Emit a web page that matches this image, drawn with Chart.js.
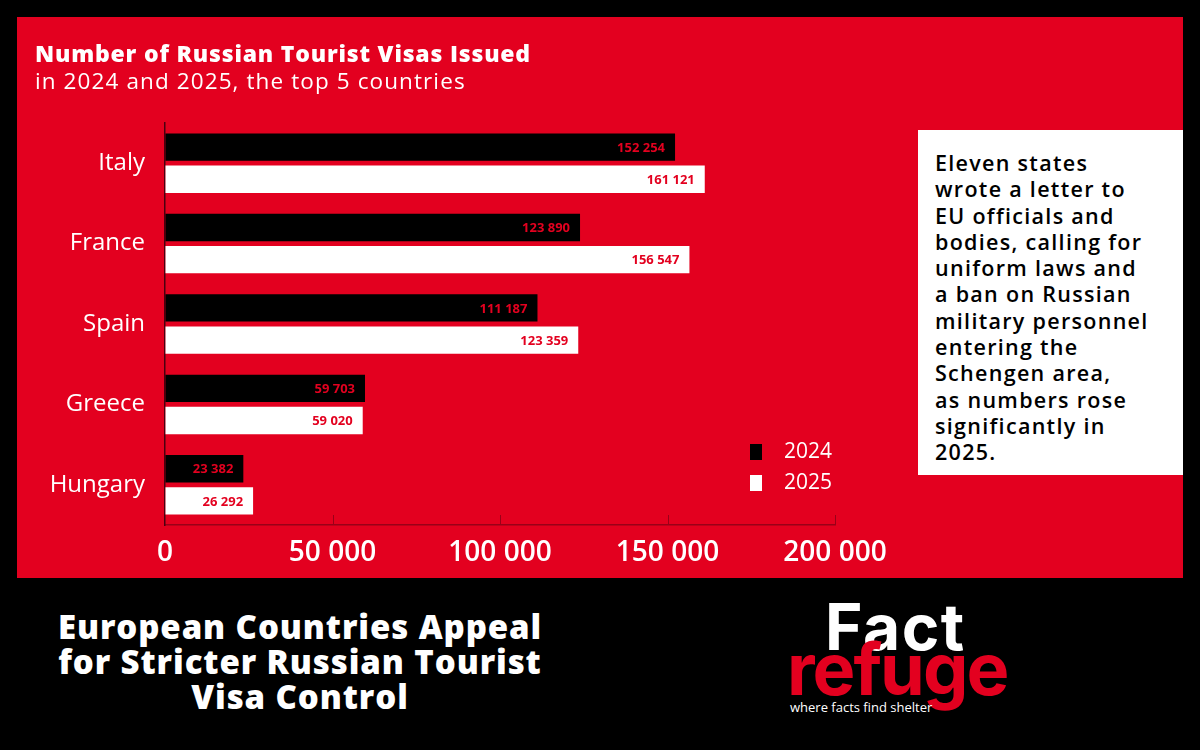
<!DOCTYPE html>
<html>
<head>
<meta charset="utf-8">
<script src="https://cdn.jsdelivr.net/npm/chart.js@4"></script>
<style>
  html, body { margin: 0; padding: 0; }
  body { width: 1200px; height: 750px; background: #000; position: relative; overflow: hidden;
         font-family: "Open Sans", "DejaVu Sans", sans-serif; }
  #panel { position: absolute; left: 17px; top: 17px; width: 1166px; height: 561px; background: #e3001f; }
  #chartBox { position: absolute; left: 0; top: 0; width: 1166px; height: 561px; }
  #title { position: absolute; left: 18px; top: 22px; color: #fff; line-height: 28px; }
  #title .main { font-size: 23px; font-weight: 800; letter-spacing: 0.8px; }
  #title .sub { font-size: 22.5px; font-weight: 400; letter-spacing: 1.1px; }
  #note { position: absolute; left: 901px; top: 113px; width: 265px; height: 345px; background: #fff;
          box-sizing: border-box; padding: 20px 0 0 17px; color: #000; font-size: 21.5px; font-weight: 600;
          line-height: 26.3px; letter-spacing: 1.3px; white-space: nowrap; }
  #headline { position: absolute; left: 0; top: 609px; width: 600px; text-align: center; color: #fff;
              font-size: 33px; font-weight: 800; line-height: 35px; letter-spacing: 0.9px; }
  #logo { position: absolute; left: 785px; top: 596px; width: 240px; height: 130px; }
  #logo .fact { position: absolute; left: 40px; top: -8px; color: #fff; font-size: 64px; font-weight: 700;
                letter-spacing: 1.5px; font-family: "Inter", "Open Sans", sans-serif; }
  #logo .refuge { position: absolute; left: 2px; top: 29px; color: #e3001f; font-size: 72px; font-weight: 700;
                  letter-spacing: -2px; font-family: "Inter", "Open Sans", sans-serif; }
  #logo .tag { position: absolute; left: 5px; top: 102px; color: #fff; font-size: 13px; font-weight: 400; }
</style>
</head>
<body>
<div id="panel">
  <div id="chartBox"><canvas id="visaChart"></canvas></div>
  <div id="title">
    <div class="main">Number of Russian Tourist Visas Issued</div>
    <div class="sub">in 2024 and 2025, the top 5 countries</div>
  </div>
  <div id="note">Eleven states<br>wrote a letter to<br>EU officials and<br>bodies, calling for<br>uniform laws and<br>a ban on Russian<br>military personnel<br>entering the<br>Schengen area,<br>as numbers rose<br>significantly in<br>2025.</div>
</div>
<div id="headline">European Countries Appeal<br>for Stricter Russian Tourist<br>Visa Control</div>
<div id="logo">
  <div class="fact">Fact</div>
  <div class="refuge">refuge</div>
  <div class="tag">where facts find shelter</div>
</div>

<script>
// Chart data
const countries = ['Italy', 'France', 'Spain', 'Greece', 'Hungary'];
const years = ['2024', '2025'];
const visas2024 = [152254, 123890, 111187, 59703, 23382];
const visas2025 = [161121, 156547, 123359, 59020, 26292];
const xTicks = [0, 50000, 100000, 150000, 200000];

const RED = '#e3001f';
const FONT = '"Open Sans", "DejaVu Sans", sans-serif';

// thousands with a space: 152 254
function fmt(v) {
    return String(v).replace(/\B(?=(\d{3})+(?!\d))/g, ' ');
}

// value labels inside the bar ends
const valueLabels = {
    id: 'valueLabels',
    afterDatasetsDraw(chart) {
        const ctx = chart.ctx;
        ctx.save();
        ctx.fillStyle = RED;
        ctx.font = '700 13px ' + FONT;
        ctx.textAlign = 'right';
        ctx.textBaseline = 'middle';
        chart.data.datasets.forEach((ds, i) => {
            chart.getDatasetMeta(i).data.forEach((bar, j) => {
                ctx.fillText(fmt(ds.data[j]), bar.x - 10, bar.y + 1);
            });
        });
        ctx.restore();
    }
};

// small ticks pointing up from the x axis line
const upTicks = {
    id: 'upTicks',
    afterDraw(chart) {
        const ctx = chart.ctx;
        const sx = chart.scales.x;
        const bottom = chart.chartArea.bottom;
        ctx.save();
        ctx.strokeStyle = '#9a0018';
        ctx.lineWidth = 1;
        xTicks.slice(1).forEach(v => {
            const px = Math.round(sx.getPixelForValue(v)) + 0.5;
            ctx.beginPath();
            ctx.moveTo(px, bottom);
            ctx.lineTo(px, bottom - 10);
            ctx.stroke();
        });
        ctx.restore();
    }
};

// legend in the lower right of the plot
const boxLegend = {
    id: 'boxLegend',
    afterDraw(chart) {
        const ctx = chart.ctx;
        ctx.save();
        ctx.font = '400 21px ' + FONT;
        ctx.textBaseline = 'middle';
        ctx.textAlign = 'left';
        chart.data.datasets.forEach((ds, i) => {
            const y = 435 + i * 31;
            ctx.fillStyle = ds.backgroundColor;
            ctx.fillRect(733, y - 8, 12, 16);
            ctx.fillStyle = '#fff';
            ctx.fillText(ds.label, 767, y);
        });
        ctx.restore();
    }
};

new Chart(document.getElementById('visaChart'), {
    type: 'bar',
    data: {
        labels: countries,
        datasets: [
            { label: years[0], data: visas2024, backgroundColor: '#000000' },
            { label: years[1], data: visas2025, backgroundColor: '#ffffff' }
        ]
    },
    options: {
        indexAxis: 'y',
        responsive: true,
        maintainAspectRatio: false,
        animation: false,
        categoryPercentage: 0.8,
        barPercentage: 0.85,
        layout: { padding: { left: 0, right: 348, top: 106, bottom: 0 } },
        plugins: {
            legend: { display: false },
            tooltip: { enabled: false }
        },
        scales: {
            x: {
                min: 0,
                max: 200000,
                afterBuildTicks(scale) {
                    scale.ticks = xTicks.map(v => ({ value: v }));
                },
                afterFit(scale) { scale.height = 53; },
                grid: { drawOnChartArea: false, drawTicks: false },
                border: { display: true, color: '#9a0018', width: 1.5 },
                ticks: {
                    color: '#ffffff',
                    padding: 11,
                    maxRotation: 0,
                    font: { family: FONT, size: 28, weight: '600' },
                    callback: v => fmt(v)
                }
            },
            y: {
                afterFit(scale) { scale.width = 148; },
                grid: { drawOnChartArea: false, drawTicks: false },
                border: { display: true, color: '#4a0010', width: 1.5 },
                ticks: {
                    color: '#ffffff',
                    padding: 20,
                    font: { family: FONT, size: 24, weight: '400' }
                }
            }
        }
    },
    plugins: [valueLabels, upTicks, boxLegend]
});
</script>
</body>
</html>
